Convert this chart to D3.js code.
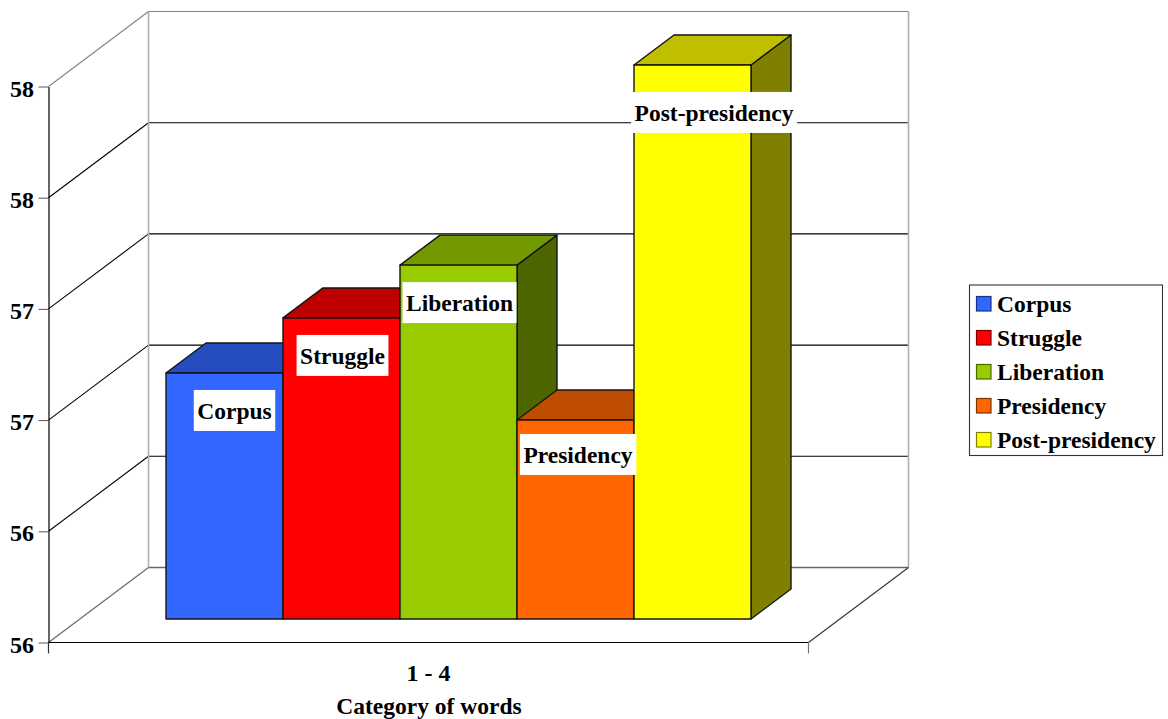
<!DOCTYPE html>
<html>
<head>
<meta charset="utf-8">
<style>
html, body { margin: 0; padding: 0; background: #fff; }
svg { display: block; }
text { font-family: "Liberation Serif", serif; font-weight: bold; font-size: 23.5px; fill: #000; }
</style>
<script src="https://cdn.jsdelivr.net/npm/d3@7/dist/d3.min.js"></script>
</head>
<body>
<svg id="chart" width="1168" height="719"></svg>
<script>
// Mean scores per category of words
const categories = ["Corpus", "Struggle", "Liberation", "Presidency", "Post-presidency"];
const values = [56.885, 57.083, 57.273, 56.716, 57.993];
const frontColors = ["#3366ff", "#ff0000", "#99cc00", "#ff6600", "#ffff00"];
const topColors = ["#264dbf", "#bf0000", "#739900", "#bf4d00", "#bfbf00"];
const sideColors = ["#1a3380", "#800000", "#4d6600", "#803300", "#808000"];
const yTicks = [56, 56.4, 56.8, 57.2, 57.6, 58];
const xTickLabel = "1 - 4";
const xTitle = "Category of words";

// Nudges for the white data labels relative to the bar centre and top
const labelDx = [10, 1, 1, 2.5, 21.5];
const labelDy = [37.5, 37.5, 37.5, 34.5, 47.5];

const svg = d3.select("#chart");
const frame = { left: 48.5, right: 808.5, bottom: 642.5, top: 86.5 };
const wall = { dx: 100, dy: -75 };       // wall depth of the 3D box
const barDepth = { dx: 40, dy: -30 };    // depth of each bar
const barShift = { dx: 30.5, dy: -23.5 };  // bars stand inside the floor

const y = d3.scaleLinear().domain([56, 58]).range([frame.bottom, frame.top]);
const x = d3.scaleBand().domain(categories)
  .range([frame.left + 87, frame.right - 88]);

const line = (x1, y1, x2, y2, color, width) => svg.append("line")
  .attr("x1", x1).attr("y1", y1).attr("x2", x2).attr("y2", y2)
  .attr("stroke", color).attr("stroke-width", width || 1);

// Back wall and the outline of the box
const backL = frame.left + wall.dx, backR = frame.right + wall.dx;
yTicks.slice(1, -1).forEach(t => {
  line(frame.left, y(t), backL, y(t) + wall.dy, "#000", 1.1);
  line(backL, y(t) + wall.dy, backR, y(t) + wall.dy, "#000", 1.1);
});
line(backL, y(58) + wall.dy, backR, y(58) + wall.dy, "#808080", 1.2);
line(backL, y(56) + wall.dy, backR, y(56) + wall.dy, "#666", 1.6);
line(backL, y(56) + wall.dy, backL, y(58) + wall.dy, "#b0b0b0", 1.6);
line(backR, y(56) + wall.dy, backR, y(58) + wall.dy, "#b0b0b0", 1.6);
line(frame.left, y(58), backL, y(58) + wall.dy, "#808080", 1.1);
line(frame.left, y(56), backL, y(56) + wall.dy, "#666", 1.1);
line(frame.right, y(56), backR, y(56) + wall.dy, "#333", 1.1);

// Value axis on the front left edge
const yAxis = d3.axisLeft(y).tickValues(yTicks).tickFormat(d3.format(".0f"))
  .tickSize(10).tickSizeOuter(0).tickPadding(4.5);
const yG = svg.append("g").attr("transform", `translate(${frame.left},0)`).call(yAxis);
yG.select(".domain").attr("stroke", "#000").attr("stroke-width", 1.2);
yG.selectAll(".tick line").attr("stroke", "#555");
yG.selectAll("text").attr("dy", "0.40em")
  .style("font-family", '"Liberation Serif", serif').style("font-size", "24px").style("font-weight", "bold");

// Category axis along the front of the floor
const xAxis = d3.axisBottom(d3.scaleBand().domain([xTickLabel]).range([frame.left, frame.right]))
  .tickSize(0).tickPadding(21);
const xG = svg.append("g").attr("transform", `translate(0,${frame.bottom})`).call(xAxis);
xG.select(".domain").remove();
xG.selectAll("text").style("font-family", '"Liberation Serif", serif').style("font-size", "24px").style("font-weight", "bold");
line(frame.left, frame.bottom, frame.right, frame.bottom, "#000", 1.2);
line(frame.left, frame.bottom, frame.left, frame.bottom + 11, "#333", 1.2);
line(frame.right, frame.bottom, frame.right, frame.bottom + 11, "#777", 1.2);
svg.append("text").attr("x", (frame.left + frame.right) / 2 + 0.5).attr("y", 714)
  .attr("text-anchor", "middle").text(xTitle);

// Bars, each drawn as side, top and front faces
const bars = svg.selectAll("g.bar").data(categories).join("g").attr("class", "bar")
  .attr("stroke", "#141414").attr("stroke-width", 1.4).attr("stroke-linejoin", "round");
const poly = pts => pts.map(p => p.join(",")).join(" ");
const xL = (c) => x(c) + barShift.dx;
const xR = (c) => xL(c) + x.bandwidth();
const yB = y(56) + barShift.dy;
const yT = (i) => y(values[i]) + barShift.dy;

bars.append("polygon").attr("fill", (d, i) => sideColors[i])
  .attr("points", (d, i) => poly([
    [xR(d), yB], [xR(d) + barDepth.dx, yB + barDepth.dy],
    [xR(d) + barDepth.dx, yT(i) + barDepth.dy], [xR(d), yT(i)]]));
bars.append("polygon").attr("fill", (d, i) => topColors[i])
  .attr("points", (d, i) => poly([
    [xL(d), yT(i)], [xL(d) + barDepth.dx, yT(i) + barDepth.dy],
    [xR(d) + barDepth.dx, yT(i) + barDepth.dy], [xR(d), yT(i)]]));
bars.append("rect").attr("fill", (d, i) => frontColors[i])
  .attr("x", d => xL(d)).attr("y", (d, i) => yT(i))
  .attr("width", x.bandwidth()).attr("height", (d, i) => yB - yT(i));

// White-backed data labels
const labels = svg.selectAll("g.label").data(categories).join("g").attr("class", "label")
  .attr("transform", (d, i) => `translate(${xL(d) + x.bandwidth() / 2 + labelDx[i]},${yT(i) + labelDy[i]})`);
labels.append("text").attr("text-anchor", "middle").attr("dy", "0.35em").text(d => d);
labels.each(function () {
  const g = d3.select(this), b = g.select("text").node().getBBox();
  g.insert("rect", "text").attr("fill", "#fff")
    .attr("x", b.x - 3.5).attr("width", b.width + 7)
    .attr("y", -20.5).attr("height", 41);
});

// Legend
const legend = svg.append("g").attr("transform", "translate(969.5,285)");
legend.append("rect").attr("width", 193).attr("height", 170.5)
  .attr("fill", "#fff").attr("stroke", "#333").attr("stroke-width", 1.1);
const rowY = d3.scalePoint().domain(categories).range([19, 155]);
const rows = legend.selectAll("g.row").data(categories).join("g").attr("class", "row")
  .attr("transform", d => `translate(0,${rowY(d)})`);
rows.append("rect").attr("x", 7).attr("y", -7.5).attr("width", 14.5).attr("height", 14.5)
  .attr("fill", (d, i) => frontColors[i]).attr("stroke", (d, i) => sideColors[i]).attr("stroke-width", 1.2);
rows.append("text").attr("x", 27.5).attr("dy", "0.32em").text(d => d);
</script>
</body>
</html>
